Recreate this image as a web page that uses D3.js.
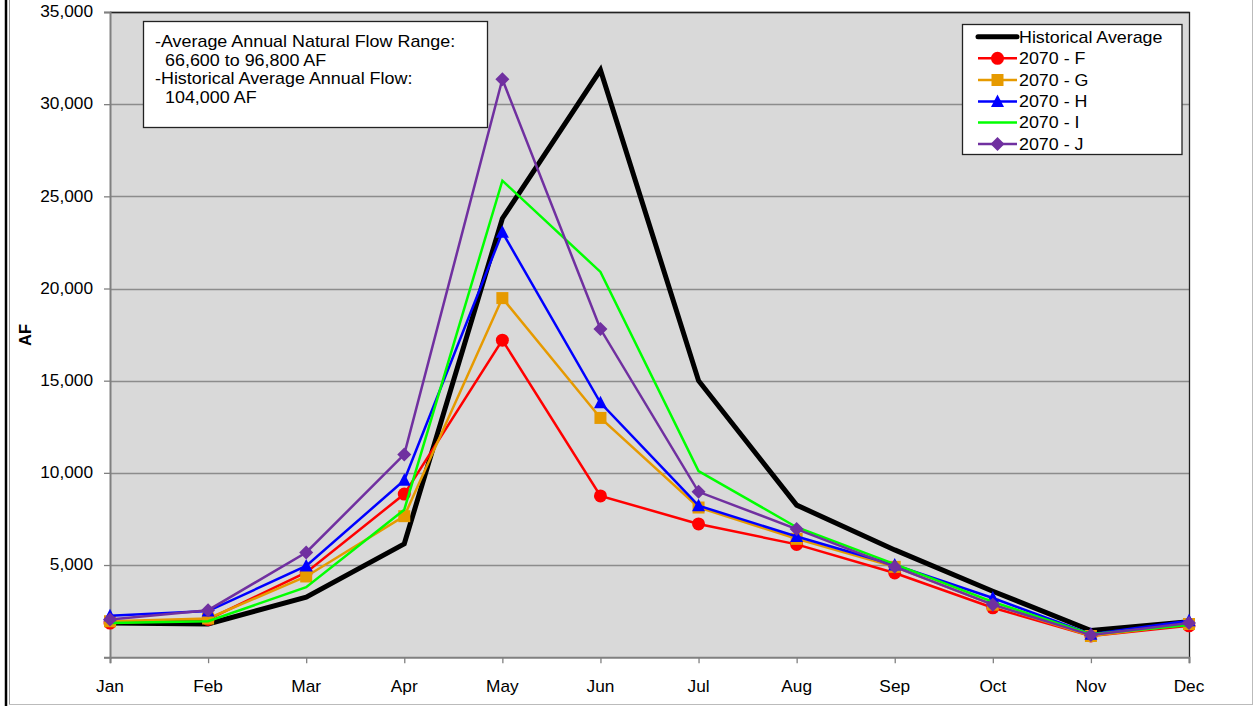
<!DOCTYPE html>
<html><head><meta charset="utf-8">
<script src="https://cdn.jsdelivr.net/npm/d3@7"></script>
<style>body{margin:0;background:#fff}svg{display:block;font-family:"Liberation Sans",Arial,sans-serif}</style>
</head><body>
<svg id="c" width="1255" height="706"></svg>
<script>
const months = ["Jan","Feb","Mar","Apr","May","Jun","Jul","Aug","Sep","Oct","Nov","Dec"];
const histAvg = [1850,1800,3260,6150,23800,31850,15000,8250,5820,3580,1450,1930];
const f2070 = [1850,2050,4600,8850,17200,8750,7230,6120,4570,2680,1150,1700];
const g2070 = [1950,2100,4380,7650,19480,12980,8120,6420,4900,2850,1150,1800];
const h2070 = [2250,2500,4950,9600,23050,13800,8220,6550,5000,3210,1250,1980];
const i2070 = [1850,1950,3800,8000,25850,20900,10100,7050,5050,3000,1250,1750];
const j2070 = [2050,2550,5680,11000,31350,17800,8970,6950,4900,2850,1200,1850];
const yTicks = [5000,10000,15000,20000,25000,30000,35000];
const seriesNames = ["Historical Average","2070 - F","2070 - G","2070 - H","2070 - I","2070 - J"];
const noteLines = ["-Average Annual Natural Flow Range:","66,600 to 96,800 AF","-Historical Average Annual Flow:","104,000 AF"];

const series = [
  {name:seriesNames[0], values:histAvg, color:"#000000", width:5, marker:null},
  {name:seriesNames[1], values:f2070, color:"#ff0000", width:2.5, marker:"circle"},
  {name:seriesNames[2], values:g2070, color:"#e69a00", width:2.5, marker:"square"},
  {name:seriesNames[3], values:h2070, color:"#0000ff", width:2.5, marker:"triangle"},
  {name:seriesNames[4], values:i2070, color:"#00ff00", width:2.5, marker:null},
  {name:seriesNames[5], values:j2070, color:"#7030a0", width:2.5, marker:"diamond"}
];

const svg = d3.select("#c");
const L=110, R=1189, T=12, B=657.2;
const x = d3.scalePoint().domain(months).range([L,R]);
const y = d3.scaleLinear().domain([0,35000]).range([B,T]);
const SX = 1.08;
function stext(g, tx, ty, str, size, anchor, sx){
  return g.append("text").attr("transform",`translate(${tx},${ty}) scale(${sx||SX},1)`)
    .attr("text-anchor",anchor||"start").attr("font-size",size).attr("fill","#000")
    .attr("dominant-baseline","central").text(str);
}

// outer frame
svg.append("line").attr("x1",6).attr("x2",6).attr("y1",0).attr("y2",706).attr("stroke","#000").attr("stroke-width",2.5);
svg.append("line").attr("x1",9.5).attr("x2",9.5).attr("y1",0).attr("y2",704).attr("stroke","#999").attr("stroke-width",1);
svg.append("line").attr("x1",9).attr("x2",1252).attr("y1",704.5).attr("y2",704.5).attr("stroke","#bbb").attr("stroke-width",1);
svg.append("line").attr("x1",1252.5).attr("x2",1252.5).attr("y1",0).attr("y2",705).attr("stroke","#bbb").attr("stroke-width",1);

// plot area
svg.append("rect").attr("x",L).attr("y",T).attr("width",R-L).attr("height",B-T).attr("fill","#d9d9d9");
svg.append("g").selectAll("line").data(yTicks).join("line")
  .attr("x1",L).attr("x2",R).attr("y1",d=>Math.round(y(d))+0.5).attr("y2",d=>Math.round(y(d))+0.5)
  .attr("stroke","#8c8c8c").attr("stroke-width",1.3);
svg.append("path").attr("d",`M${L},${T+0.5}H${R+0.5}V${B}`).attr("fill","none").attr("stroke","#222").attr("stroke-width",1.3);

// y axis
const yAxis = svg.append("g").attr("transform",`translate(${L},0)`)
  .call(d3.axisLeft(y).tickValues([0].concat(yTicks)).tickSize(6).tickFormat(""));
yAxis.select(".domain").attr("stroke","#808080").attr("stroke-width",2);
yAxis.selectAll(".tick line").attr("stroke","#808080").attr("stroke-width",1.3);
yTicks.forEach(v=>stext(svg, 93, y(v), d3.format(",")(v), 16, "end"));
svg.append("text").attr("transform",`translate(25,335) rotate(-90)`).attr("text-anchor","middle")
  .attr("dominant-baseline","central").attr("font-size",16.5).attr("font-weight","bold").text("AF");

// x axis
const xAxis = svg.append("g").attr("transform",`translate(0,${B})`)
  .call(d3.axisBottom(x).tickSize(6).tickFormat(""));
xAxis.select(".domain").attr("stroke","#808080").attr("stroke-width",2);
xAxis.selectAll(".tick line").attr("stroke","#808080").attr("stroke-width",1.3);
months.forEach(m=>stext(svg, x(m), 687, m, 16, "middle"));

// series
const line = d3.line().x((d,i)=>x(months[i])).y(d=>y(d));
function marker(g, type, cx, cy, color, s){
  s = s||1;
  if(type==="circle") g.append("circle").attr("cx",cx).attr("cy",cy).attr("r",6.5*s).attr("fill",color);
  else if(type==="square") g.append("rect").attr("x",cx-6*s).attr("y",cy-6*s).attr("width",12*s).attr("height",12*s).attr("fill",color);
  else if(type==="triangle") g.append("path").attr("d",`M${cx},${cy-7*s}L${cx+6.5*s},${cy+5.5*s}L${cx-6.5*s},${cy+5.5*s}Z`).attr("fill",color);
  else if(type==="diamond") g.append("path").attr("d",`M${cx},${cy-7*s}L${cx+7*s},${cy}L${cx},${cy+7*s}L${cx-7*s},${cy}Z`).attr("fill",color);
}
series.forEach(s=>{
  const g = svg.append("g");
  g.append("path").attr("d",line(s.values)).attr("fill","none").attr("stroke",s.color)
    .attr("stroke-width",s.width).attr("stroke-linejoin","miter");
  if(s.marker) s.values.forEach((v,i)=>marker(g,s.marker,x(months[i]),y(v),s.color));
});

// annotation box
svg.append("rect").attr("x",143.5).attr("y",21.5).attr("width",344).attr("height",106).attr("fill","#fff").attr("stroke","#222").attr("stroke-width",1.3);
const noteY=[41.5,60.5,79,97.5];
const noteX=[155,165,155,165];
noteLines.forEach((t,i)=>stext(svg, noteX[i], noteY[i], t, 16, "start", 1.12));

// legend
svg.append("rect").attr("x",962.5).attr("y",24.5).attr("width",219.5).attr("height",130).attr("fill","#fff").attr("stroke","#222").attr("stroke-width",1.3);
const legY=[36.7,58.3,80,101.5,122.5,144];
series.forEach((s,i)=>{
  const g=svg.append("g");
  g.append("line").attr("x1",978).attr("x2",1017).attr("y1",legY[i]).attr("y2",legY[i])
    .attr("stroke",s.color).attr("stroke-width",s.width).attr("stroke-linecap",i===0?"round":"butt");
  if(s.marker) marker(g,s.marker,997.5,legY[i],s.color);
  stext(g, 1019, legY[i], s.name, 17, "start", 1.05);
});
</script>
</body></html>
